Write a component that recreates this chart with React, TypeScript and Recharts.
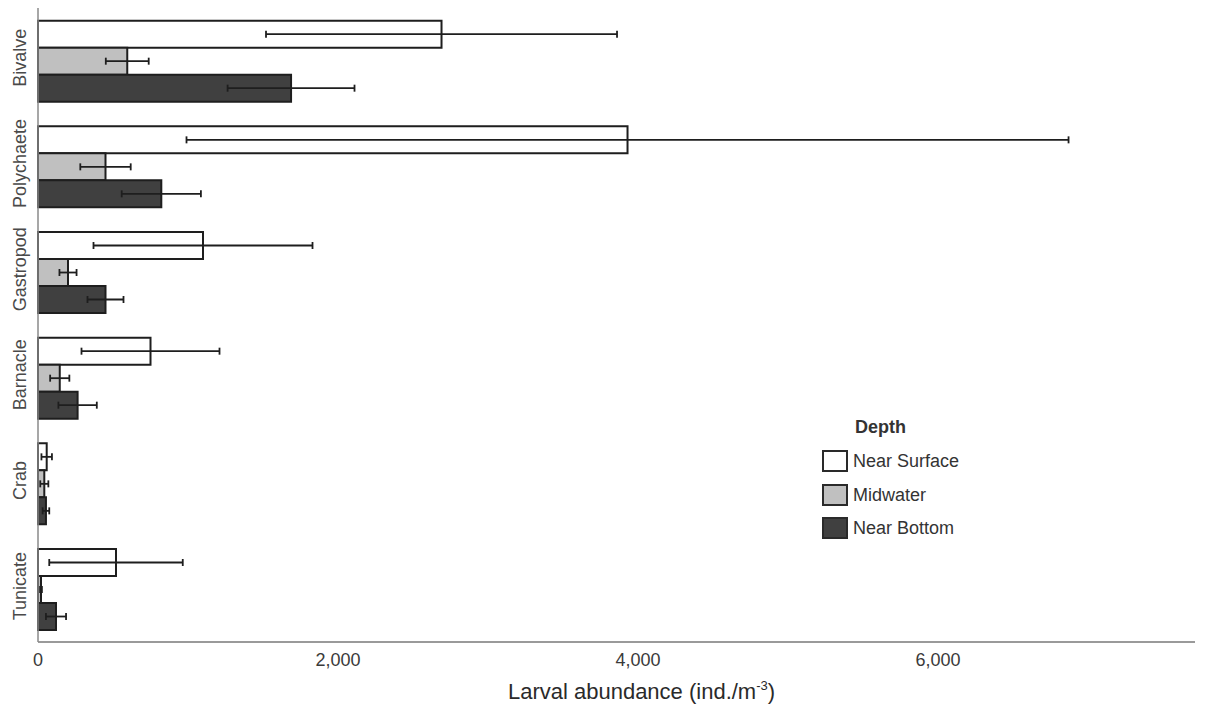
import React from "react";
import {
  Bar,
  BarChart,
  ErrorBar,
  Label,
  Legend,
  XAxis,
  YAxis,
} from "recharts";

const FONT = "Arial, 'Liberation Sans', sans-serif";

const taxa = ["Bivalve", "Polychaete", "Gastropod", "Barnacle", "Crab", "Tunicate"];
const nearSurface = [2690, 3930, 1100, 750, 58, 520];
const nearSurfaceErr = [1170, 2940, 730, 460, 35, 445];
const midwater = [595, 450, 200, 145, 42, 20];
const midwaterErr = [143, 168, 57, 64, 27, 6];
const nearBottom = [1687, 822, 450, 264, 53, 120];
const nearBottomErr = [423, 264, 120, 128, 22, 67];
const xTicks = [0, 2000, 4000, 6000];

const series = [
  { key: "surface", name: "Near Surface", fill: "#ffffff" },
  { key: "mid", name: "Midwater", fill: "#c0c0c0" },
  { key: "bottom", name: "Near Bottom", fill: "#404040" },
];

const data = taxa.map((name, i) => ({
  name,
  surface: nearSurface[i],
  surfaceErr: nearSurfaceErr[i],
  mid: midwater[i],
  midErr: midwaterErr[i],
  bottom: nearBottom[i],
  bottomErr: nearBottomErr[i],
}));

const NUM = new Intl.NumberFormat("en-US");

function TaxonTick({ y, payload }: { y?: number; payload?: { value: string } }) {
  const cy = (y ?? 0) - 3;
  return (
    <text
      x={20}
      y={cy}
      transform={`rotate(-90, 20, ${cy})`}
      textAnchor="middle"
      dominantBaseline="central"
      fontSize={18}
      fontFamily={FONT}
      fill="#4a4a4a"
    >
      {payload?.value}
    </text>
  );
}

function DepthLegend() {
  return (
    <div style={{ position: "relative", width: 200, height: 140, fontFamily: FONT }}>
      <div
        style={{
          position: "absolute",
          left: 33,
          top: 0,
          lineHeight: "30px",
          fontSize: 18,
          fontWeight: "bold",
          color: "#333",
        }}
      >
        Depth
      </div>
      {series.map((s, i) => (
        <div key={s.key}>
          <div
            style={{
              position: "absolute",
              left: 0,
              top: 38 + i * 33.5,
              width: 22,
              height: 18,
              border: "2px solid #2a2a2a",
              background: s.fill,
            }}
          />
          <div
            style={{
              position: "absolute",
              left: 31,
              top: 38 + i * 33.5,
              lineHeight: "22px",
              fontSize: 18,
              color: "#333",
              whiteSpace: "nowrap",
            }}
          >
            {s.name}
          </div>
        </div>
      ))}
    </div>
  );
}

export default function App() {
  return (
    <div style={{ position: "absolute", left: 0, top: 0, width: 1206, height: 711, background: "#fff" }}>
      <BarChart
        width={1206}
        height={711}
        data={data}
        layout="vertical"
        margin={{ top: 8, right: 11, bottom: 0, left: 0 }}
        barCategoryGap="12%"
        barGap={0}
      >
        <XAxis
          type="number"
          domain={[0, 7713]}
          ticks={xTicks}
          tickFormatter={(v: number) => NUM.format(v)}
          tickLine={false}
          tickMargin={5}
          height={69}
          axisLine={{ stroke: "#9a9a9a", strokeWidth: 2 }}
          tick={{ fontSize: 18, fontFamily: FONT, fill: "#3a3a3a" }}
        >
          <Label
            content={({ viewBox }: any) => {
              const cx = viewBox.x + viewBox.width / 2 + 25;
              const y = viewBox.y + 57;
              return (
                <text x={cx} y={y} textAnchor="middle" fontSize={22} fontFamily={FONT} fill="#2a2a2a">
                  Larval abundance (ind./m
                  <tspan dy={-9} fontSize={13}>-3</tspan>
                  <tspan dy={9}>)</tspan>
                </text>
              );
            }}
          />
        </XAxis>
        <YAxis
          type="category"
          dataKey="name"
          width={38}
          tickLine={false}
          axisLine={{ stroke: "#8a8a8a", strokeWidth: 1.5 }}
          tick={<TaxonTick />}
          interval={0}
        />
        <Legend
          layout="vertical"
          align="center"
          verticalAlign="middle"
          content={<DepthLegend />}
          wrapperStyle={{ left: 822, top: 412, width: 200, height: 140 }}
        />
        {series.map((s) => (
          <Bar
            key={s.key}
            dataKey={s.key}
            name={s.name}
            fill={s.fill}
            stroke="#1e1e1e"
            strokeWidth={2}
            isAnimationActive={false}
          >
            <ErrorBar
              dataKey={`${s.key}Err`}
              direction="x"
              width={3.5}
              stroke="#1e1e1e"
              strokeWidth={1.8}
            />
          </Bar>
        ))}
      </BarChart>
    </div>
  );
}
